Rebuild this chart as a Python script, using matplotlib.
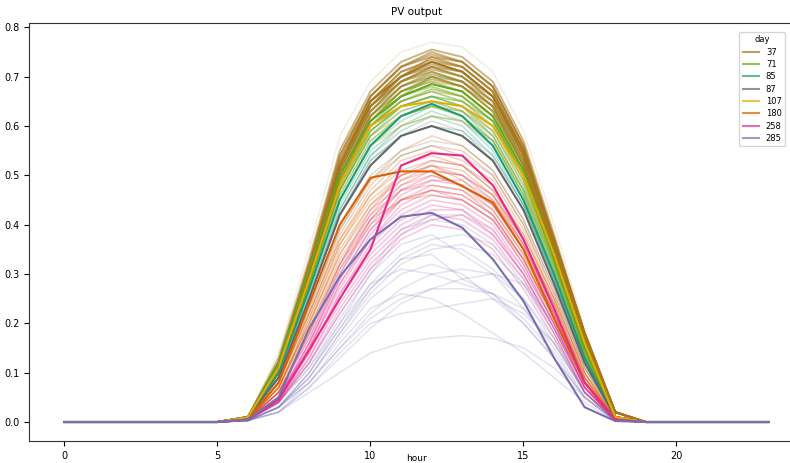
import matplotlib
matplotlib.use("Agg")
from matplotlib import pyplot as plt
from matplotlib.lines import Line2D
import numpy as np

hours = list(range(24))
day_hours = list(range(6, 19))

legend_days = ['37', '71', '85', '87', '107', '180', '258', '285']
legend_colors = ['#a6761d', '#66a61e', '#1b9e77', '#666666',
                 '#e6ab02', '#d95f02', '#e7298a', '#7570b3']

# highlighted days (one line per legend entry)
day_37 = [.01, .12, .31, .52, .65, .70, .73, .71, .66, .55, .37, .18, .02]
day_71 = [.01, .12, .31, .50, .61, .66, .685, .67, .62, .51, .34, .16, .01]
day_85 = [.01, .10, .27, .45, .56, .62, .645, .62, .56, .45, .30, .13, .01]
day_87 = [.01, .09, .25, .42, .52, .58, .60, .58, .53, .43, .28, .12, .01]
day_107 = [.01, .11, .29, .48, .60, .64, .65, .64, .60, .50, .34, .16, .01]
day_180 = [.005, .08, .24, .40, .495, .508, .508, .478, .445, .35, .21, .08, .005]
day_258 = [.005, .045, .146, .25, .35, .52, .545, .54, .48, .37, .23, .08, .005]
day_285 = [.005, .05, .19, .295, .37, .416, .424, .394, .33, .245, .13, .03, .002]

# the other days, grouped by colour
palest_day = [.01, .14, .35, .58, .69, .75, .77, .76, .71, .59, .40, .19, .02]
brown_days = [
    [.01, .13, .33, .55, .67, .73, .755, .74, .69, .57, .38, .18, .02],
    [.01, .12, .32, .54, .66, .72, .745, .73, .68, .56, .37, .18, .02],
    [.01, .12, .31, .53, .66, .72, .74, .72, .67, .55, .37, .17, .02],
    [.01, .12, .32, .53, .65, .71, .735, .72, .67, .55, .36, .17, .02],
    [.01, .11, .30, .52, .64, .70, .725, .71, .66, .54, .36, .17, .02],
    [.01, .12, .31, .52, .64, .69, .72, .70, .66, .54, .36, .17, .02],
    [.01, .11, .30, .51, .63, .69, .715, .70, .65, .54, .36, .17, .01],
    [.01, .11, .30, .51, .63, .69, .71, .69, .65, .53, .35, .17, .01],
    [.01, .11, .29, .50, .62, .68, .705, .69, .64, .53, .35, .16, .01],
    [.01, .11, .29, .50, .62, .68, .70, .68, .64, .52, .35, .17, .01],
    [.01, .10, .29, .49, .61, .67, .695, .68, .63, .52, .34, .16, .01],
    [.01, .12, .32, .54, .66, .72, .75, .73, .68, .56, .37, .18, .02],
    [.01, .12, .31, .52, .65, .71, .73, .72, .67, .55, .37, .18, .02],
    [.01, .11, .30, .51, .64, .70, .72, .71, .66, .54, .36, .17, .02],
    [.01, .12, .31, .52, .64, .70, .74, .73, .68, .56, .37, .18, .02],
]
green_days = [
    [.01, .12, .31, .52, .64, .69, .72, .70, .65, .53, .35, .16, .01],
    [.01, .12, .31, .51, .63, .68, .71, .69, .64, .52, .34, .16, .01],
    [.01, .11, .30, .50, .62, .67, .70, .68, .63, .51, .34, .15, .01],
    [.01, .11, .30, .50, .61, .67, .69, .67, .62, .50, .33, .15, .01],
    [.01, .11, .29, .49, .60, .66, .68, .66, .61, .50, .33, .15, .01],
    [.01, .11, .29, .48, .60, .65, .67, .65, .60, .49, .32, .14, .01],
    [.01, .10, .28, .47, .59, .64, .66, .64, .59, .48, .32, .14, .01],
    [.01, .10, .28, .47, .58, .63, .65, .63, .58, .47, .31, .14, .01],
    [.01, .10, .27, .46, .57, .62, .64, .62, .57, .46, .30, .13, .01],
    [.01, .11, .30, .50, .61, .66, .70, .69, .64, .52, .34, .15, .01],
    [.01, .12, .30, .49, .60, .65, .675, .66, .61, .50, .33, .15, .01],
    [.01, .11, .29, .48, .59, .64, .66, .65, .61, .50, .33, .15, .01],
]
teal_days = [
    [.01, .10, .28, .47, .58, .64, .66, .64, .58, .47, .31, .13, .01],
    [.01, .09, .26, .44, .55, .60, .63, .61, .55, .44, .29, .12, .01],
    [.01, .09, .25, .42, .53, .58, .60, .59, .53, .43, .28, .12, .01],
    [.01, .09, .25, .43, .54, .59, .62, .60, .54, .44, .29, .12, .01],
    [.01, .10, .27, .45, .56, .61, .64, .63, .57, .46, .30, .13, .01],
    [.01, .09, .26, .43, .54, .60, .62, .61, .56, .45, .29, .12, .01],
]
yellow_days = [
    [.01, .11, .30, .50, .62, .67, .69, .68, .63, .52, .35, .16, .01],
    [.01, .10, .28, .47, .58, .62, .64, .63, .59, .49, .33, .15, .01],
    [.01, .10, .27, .45, .56, .60, .62, .61, .57, .47, .32, .15, .01],
    [.01, .11, .29, .48, .60, .65, .67, .66, .62, .51, .34, .16, .01],
]
gray_days = [
    [.01, .09, .24, .40, .50, .55, .57, .56, .51, .41, .27, .11, .01],
    [.01, .08, .23, .39, .49, .54, .56, .54, .50, .40, .26, .11, .01],
    [.01, .09, .25, .42, .53, .58, .61, .59, .54, .44, .29, .12, .01],
]
orange_days = [
    [.005, .08, .22, .38, .48, .54, .56, .55, .50, .40, .26, .10, .005],
    [.005, .07, .21, .36, .46, .51, .53, .52, .47, .38, .25, .10, .005],
    [.005, .07, .20, .35, .44, .49, .51, .50, .46, .37, .24, .09, .005],
    [.005, .07, .20, .34, .43, .48, .50, .48, .44, .35, .23, .09, .005],
    [.005, .06, .19, .33, .42, .47, .48, .47, .43, .34, .22, .08, .005],
    [.005, .08, .22, .37, .47, .53, .55, .53, .49, .39, .25, .10, .005],
    [.005, .07, .19, .32, .41, .45, .47, .46, .42, .33, .21, .08, .005],
    [.005, .08, .23, .39, .49, .55, .58, .56, .51, .41, .27, .11, .005],
    [.005, .07, .21, .36, .45, .50, .52, .51, .46, .37, .24, .09, .005],
    [.005, .08, .22, .37, .46, .52, .54, .52, .48, .38, .25, .10, .005],
    [.005, .06, .18, .31, .40, .45, .46, .45, .41, .33, .21, .08, .005],
    [.005, .07, .20, .34, .44, .50, .52, .49, .45, .36, .23, .09, .005],
]
pink_days = [
    [.005, .05, .16, .29, .39, .46, .49, .48, .43, .34, .22, .08, .005],
    [.005, .05, .15, .27, .37, .43, .46, .45, .41, .32, .20, .07, .005],
    [.005, .06, .17, .31, .41, .48, .51, .50, .45, .36, .23, .08, .005],
    [.005, .04, .14, .26, .35, .41, .44, .43, .39, .30, .19, .07, .005],
    [.005, .05, .15, .28, .38, .45, .48, .47, .42, .33, .21, .08, .005],
    [.005, .04, .13, .24, .33, .39, .42, .41, .37, .29, .18, .06, .005],
    [.005, .06, .18, .32, .43, .50, .53, .52, .47, .37, .24, .09, .005],
    [.005, .04, .12, .22, .31, .37, .40, .39, .35, .27, .17, .06, .005],
    [.005, .05, .16, .30, .40, .47, .50, .48, .44, .35, .22, .08, .005],
    [.005, .05, .14, .26, .36, .42, .45, .44, .40, .31, .20, .07, .005],
    [.005, .05, .15, .28, .37, .44, .47, .45, .41, .32, .20, .07, .005],
    [.005, .06, .17, .30, .41, .47, .49, .49, .44, .35, .22, .08, .005],
    [.005, .04, .13, .25, .34, .40, .43, .43, .38, .30, .19, .07, .005],
    [.005, .05, .16, .29, .39, .45, .47, .46, .42, .33, .21, .08, .005],
    [.005, .06, .18, .32, .42, .49, .52, .50, .46, .36, .23, .08, .005],
    [.005, .04, .12, .23, .32, .38, .41, .42, .38, .30, .19, .07, .005],
]
lavender_days = [
    [.003, .03, .10, .20, .30, .38, .42, .42, .39, .31, .20, .07, .003],
    [.003, .03, .09, .18, .26, .32, .35, .36, .34, .28, .18, .06, .003],
    [.003, .03, .08, .15, .22, .27, .30, .31, .30, .25, .17, .06, .003],
    [.003, .02, .06, .10, .14, .16, .17, .175, .17, .15, .11, .05, .003],
    [.003, .03, .08, .16, .23, .26, .25, .22, .18, .14, .09, .04, .003],
    [.003, .03, .10, .19, .27, .33, .34, .29, .26, .21, .14, .05, .003],
    [.003, .02, .07, .13, .19, .24, .27, .29, .30, .28, .20, .07, .003],
    [.003, .04, .12, .22, .31, .39, .41, .40, .36, .28, .18, .06, .003],
    [.003, .04, .11, .21, .30, .36, .38, .34, .30, .23, .15, .05, .003],
    [.003, .02, .07, .14, .20, .22, .23, .24, .25, .22, .16, .06, .003],
    [.003, .03, .09, .17, .25, .30, .32, .30, .25, .20, .13, .05, .003],
    [.003, .04, .11, .20, .28, .34, .37, .38, .36, .29, .19, .06, .003],
    [.003, .03, .09, .18, .27, .33, .36, .35, .31, .25, .16, .06, .003],
    [.003, .02, .08, .15, .21, .25, .27, .27, .26, .23, .16, .06, .003],
    [.003, .03, .10, .19, .28, .31, .30, .28, .26, .20, .13, .05, .003],
]


def full_day(vals):
    # night hours are zero
    return [0] * 6 + list(vals) + [0] * 5


plt.rcParams['font.size'] = 7
fig = plt.figure(figsize=(7.9, 4.63), dpi=100)
ax = fig.add_axes([0.037, 0.0475, 0.98, 0.9025])

ax.plot(hours, full_day(palest_day), color='#a6761d', alpha=0.12, lw=1.2)
faint = [
    (lavender_days, '#7570b3', 0.2, 1.1),
    (pink_days, '#e7298a', 0.28, 1.1),
    (orange_days, '#d95f02', 0.28, 1.1),
    (gray_days, '#666666', 0.22, 1.1),
    (teal_days, '#1b9e77', 0.3, 1.1),
    (yellow_days, '#e6ab02', 0.4, 1.1),
    (green_days, '#66a61e', 0.5, 1.3),
    (brown_days, '#a6761d', 0.55, 1.4),
]
for days, col, a, lw in faint:
    for d in days:
        ax.plot(hours, full_day(d), color=col, alpha=a, lw=lw)

bold = [day_37, day_71, day_85, day_87, day_107, day_180, day_258, day_285]
for d, col in zip(bold, legend_colors):
    ax.plot(hours, full_day(d), color=col, lw=1.5)

ax.set_xlim(-1.15, 24.15)
ax.set_ylim(-0.0385, 0.8085)
ax.set_xticks([0, 5, 10, 15, 20])
ax.set_yticks(np.arange(0, 0.81, 0.1))
ax.set_title('PV output', fontsize=7.5)
ax.set_xlabel('hour', fontsize=6.5)
ax.xaxis.set_label_coords(0.5, -0.03)
for s in ax.spines.values():
    s.set_color('#333333')

handles = [Line2D([0], [0], color=c, lw=1.5, alpha=0.7) for c in legend_colors]
ax.legend(handles, legend_days, title='day', loc='upper right', fontsize=6,
          title_fontsize=6, labelspacing=0.4, handlelength=2.0,
          bbox_to_anchor=(0.999, 0.94), bbox_transform=fig.transFigure)

fig.savefig('out.png', dpi=100)
